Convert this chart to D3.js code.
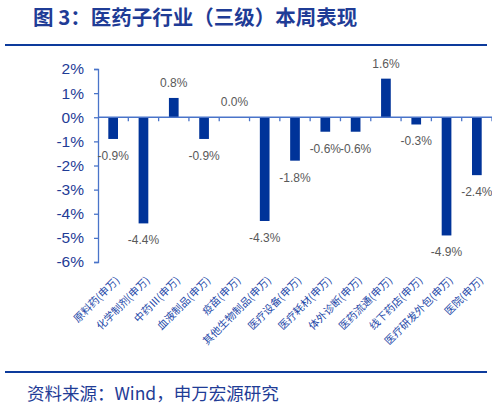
<!DOCTYPE html>
<html><head><meta charset="utf-8">
<script src="https://cdn.jsdelivr.net/npm/d3@7"></script>
<style>
body{margin:0;background:#fff;}
svg{display:block;}
</style></head>
<body>
<script>
const categories = ["原料药(申万)","化学制剂(申万)","中药Ⅲ(申万)","血液制品(申万)","疫苗(申万)","其他生物制品(申万)","医疗设备(申万)","医疗耗材(申万)","体外诊断(申万)","医药流通(申万)","线下药店(申万)","医疗研发外包(申万)","医院(申万)"];
const values = [-0.9,-4.4,0.8,-0.9,0.0,-4.3,-1.8,-0.6,-0.6,1.6,-0.3,-4.9,-2.4];
const yTicks = [2,1,0,-1,-2,-3,-4,-5,-6];
const title = "图 3：医药子行业（三级）本周表现";
const source = "资料来源：Wind，申万宏源研究";

const W=492,H=408;
const svg=d3.select("body").append("svg").attr("width",W).attr("height",H);
const cjk="'Noto Sans CJK SC','Noto Sans',sans-serif";
const lat="'Liberation Sans',Arial,sans-serif";
const dark="#1f3c96";
const axisCol="#4a74c9";
const barCol="#003399";

svg.append("text").attr("x",33).attr("y",25).attr("font-family",cjk).attr("font-weight","bold")
  .attr("font-size",20.5).attr("fill",dark).text(title);
svg.append("rect").attr("x",5).attr("y",44).attr("width",482).attr("height",2).attr("fill","#0d3b9c");
svg.append("rect").attr("x",5).attr("y",371).attr("width",482).attr("height",2).attr("fill","#0d3b9c");
svg.append("text").attr("x",27).attr("y",400).attr("font-family",cjk)
  .attr("font-size",17.5).attr("fill",dark).text(source);

const x=d3.scaleBand().domain(categories).range([98,492]).paddingInner(0.68).paddingOuter(0.34);
const y=d3.scaleLinear().domain([-6,2]).range([262,69]);

// y axis
const ya=svg.append("g").attr("transform","translate(98,0)")
  .call(d3.axisLeft(y).tickValues(yTicks).tickSize(4).tickPadding(10).tickFormat(d=>d+"%"));
ya.select(".domain").attr("stroke",axisCol).attr("stroke-width",1.3);
ya.selectAll(".tick line").attr("stroke",axisCol).attr("stroke-width",1.3);
ya.selectAll(".tick text").attr("font-family",lat).attr("font-size",15.5).attr("fill",dark);

// bars
svg.selectAll("rect.bar").data(values).join("rect").attr("class","bar")
  .attr("x",(d,i)=>x(categories[i]))
  .attr("width",x.bandwidth())
  .attr("y",d=>y(Math.max(0,d)))
  .attr("height",d=>Math.abs(y(d)-y(0)))
  .attr("fill",barCol);

// x axis at zero
const step=x.step();
const xa=svg.append("g").attr("transform",`translate(0,${y(0)})`);
xa.append("line").attr("x1",98).attr("x2",492).attr("stroke",axisCol).attr("stroke-width",1.3);
categories.forEach((c,i)=>{
  const bx=98+step*(i+1);
  xa.append("line").attr("x1",bx).attr("x2",bx).attr("y1",0).attr("y2",4).attr("stroke",axisCol).attr("stroke-width",1.3);
});

// value labels
svg.selectAll("text.val").data(values).join("text").attr("class","val")
  .attr("x",(d,i)=>x(categories[i])+x.bandwidth()/2)
  .attr("y",d=>d>=0?y(d)-11:y(d)+21)
  .attr("text-anchor","middle").attr("font-family",lat).attr("font-size",12).attr("fill","#595959")
  .text(d=>d.toFixed(1)+"%");

// category labels
svg.selectAll("text.cat").data(categories).join("text").attr("class","cat")
  .attr("transform",(d)=>`translate(${x(d)+x.bandwidth()/2+7},${281}) rotate(-45)`)
  .attr("text-anchor","end").attr("font-family",cjk).attr("font-size",10.5).attr("fill","#2448a8")
  .text(d=>d);
</script>
</body></html>
